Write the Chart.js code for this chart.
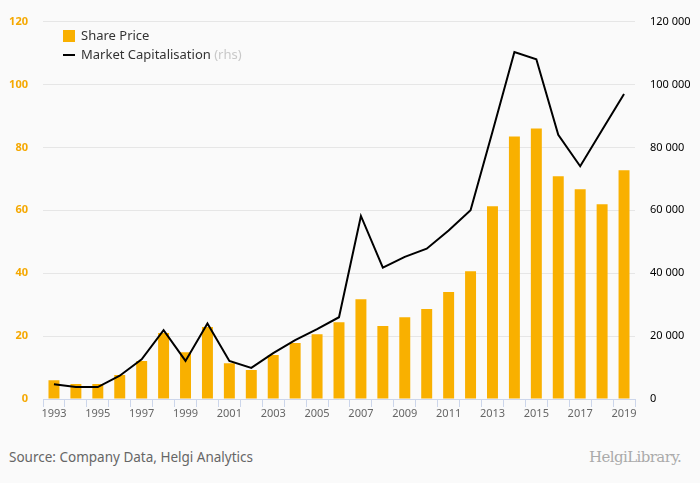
<!DOCTYPE html>
<html>
<head>
<meta charset="utf-8">
<script src="https://cdn.jsdelivr.net/npm/chart.js@4"></script>
<style>
  body { margin: 0; background: #fafafa; font-family: "Noto Sans", sans-serif; }
  #wrap { position: relative; width: 700px; height: 483px; background: #fafafa; }
  #chart { position: absolute; left: 0; top: 0; }
  .leg { position: absolute; left: 63px; font-size: 13px; color: #333; }
  .leg .sw { position: absolute; left: 0; }
  .leg span.t { position: absolute; left: 18px; white-space: nowrap; }
  #source { position: absolute; left: 9px; top: 448px; font-size: 13.5px; color: #666; }
  #logo { position: absolute; left: 589px; top: 448px; font-size: 15px; color: #aaa; font-family: "DejaVu Serif", serif; letter-spacing: -0.6px; }
</style>
</head>
<body>
<div id="wrap">
  <canvas id="chart" width="700" height="430"></canvas>
  <div class="leg" style="top:27px">
    <div class="sw" style="top:3px;width:12px;height:12px;background:#f9b000"></div>
    <span class="t" style="top:-1px">Share Price</span>
  </div>
  <div class="leg" style="top:46px">
    <div class="sw" style="top:8px;width:12px;height:2px;background:#000"></div>
    <span class="t" style="top:-1px">Market Capitalisation <span style="color:#c8c8c8">(rhs)</span></span>
  </div>
  <div id="source">Source: Company Data, Helgi Analytics</div>
  <div id="logo">HelgiLibrary.</div>
</div>
<script>
// 株価と時価総額
var years = ['1993', '1994', '1995', '1996', '1997', '1998', '1999', '2000', '2001', '2002',
  '2003', '2004', '2005', '2006', '2007', '2008', '2009', '2010', '2011', '2012',
  '2013', '2014', '2015', '2016', '2017', '2018', '2019'];

var sharePrice = [6.0, 4.8, 4.8, 7.6, 12.1, 21.0, 14.9, 22.9, 11.4, 9.2,
  14.0, 17.8, 20.6, 24.4, 31.7, 23.2, 26.0, 28.6, 34.0, 40.6,
  61.3, 83.5, 86.0, 70.8, 66.7, 61.9, 72.7];

var marketCap = [4700, 3800, 3800, 7400, 12600, 21900, 12100, 24000, 12100, 9900,
  14600, 18700, 22200, 26000, 58200, 41800, 45200, 47800, 53600, 60000,
  85000, 110300, 108000, 84000, 74000, 85500, 97000];

var fmt = function (v) {
  return String(v).replace(/\B(?=(\d{3})+(?!\d))/g, ' ');
};

var chartData = {
  labels: years,
  datasets: [{
    type: 'line',
    label: 'Market Capitalisation',
    data: marketCap,
    yAxisID: 'y1',
    borderColor: '#000',
    borderWidth: 2,
    pointRadius: 0,
    tension: 0,
    order: 0
  }, {
    type: 'bar',
    label: 'Share Price',
    data: sharePrice,
    yAxisID: 'y',
    backgroundColor: '#f9b000',
    barPercentage: 0.5,
    categoryPercentage: 1,
    order: 1
  }]
};

var chartConfig = {
  data: chartData,
  options: {
    responsive: false,
    animation: false,
    layout: { padding: { top: 21, left: 0, right: 0, bottom: 0 } },
    plugins: { legend: { display: false }, tooltip: { enabled: false } },
    scales: {
      x: {
        offset: true,
        grid: { offset: true, drawOnChartArea: false, drawTicks: true, tickLength: 8, color: '#ccd6eb' },
        border: { color: '#ccd6eb' },
        ticks: {
          autoSkip: false,
          maxRotation: 0,
          padding: 0,
          color: '#666',
          font: { family: 'Noto Sans', size: 11 },
          callback: function (v, i) { return i % 2 === 0 ? years[i] : ''; }
        },
        afterFit: function (s) { s.height = 31; }
      },
      y: {
        position: 'left',
        min: 0,
        max: 120,
        ticks: {
          stepSize: 20,
          padding: 15,
          color: '#f5a800',
          font: { family: 'Noto Sans', size: 11, weight: 'bold' }
        },
        grid: { color: '#e6e6e6', drawTicks: false },
        border: { display: false },
        afterFit: function (s) { s.width = 43; }
      },
      y1: {
        position: 'right',
        min: 0,
        max: 120000,
        ticks: {
          stepSize: 20000,
          padding: 15,
          color: '#000',
          font: { family: 'Noto Sans', size: 11 },
          callback: function (v) { return fmt(v); }
        },
        grid: { display: false, drawTicks: false },
        border: { display: false },
        afterFit: function (s) { s.width = 65; }
      }
    }
  }
};

var chart = new Chart(document.getElementById('chart'), chartConfig);
</script>
</body>
</html>
